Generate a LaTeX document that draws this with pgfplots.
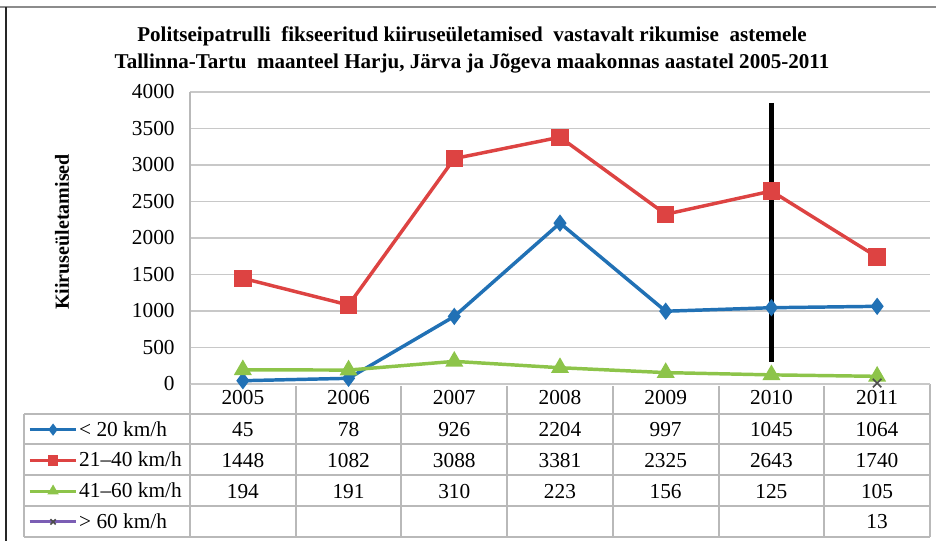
\documentclass[border=0pt]{standalone}
\usepackage{fontspec}
\setmainfont{Liberation Serif}
\usepackage{pgfplots}
\pgfplotsset{compat=1.18}

\definecolor{sblue}{RGB}{33,113,181}
\definecolor{sred}{RGB}{221,67,66}
\definecolor{sgreen}{RGB}{141,196,74}
\definecolor{spurple}{RGB}{123,94,180}
\definecolor{gridc}{RGB}{200,200,200}
\definecolor{tabc}{RGB}{185,185,185}

\newcommand{\fs}{\fontsize{16}{19}\selectfont}

\begin{document}
\begin{tikzpicture}
% pixel-like coordinates (origin top left)
\begin{scope}[x=0.75pt,y=-0.75pt]
  \path[use as bounding box] (0,0) rectangle (936,541);
  \draw[black!45, line width=2.2pt] (0,7) -- (936,7);
  \draw[black!85, line width=1.1pt] (6,7) -- (6,541);
  % title
  \node[font=\bfseries\fontsize{15.8}{20.5}\selectfont, align=center] at (472,50)
    {Politseipatrulli\ \ fikseeritud kiiruseületamised\ \ vastavalt rikumise\ \ astemele\\
     Tallinna-Tartu\ \ maanteel Harju, Järva ja Jõgeva maakonnas aastatel 2005-2011};
  \node[rotate=90, font=\bfseries\fontsize{15}{18}\selectfont] at (62,232) {Kiiruseületamised};
  % table grid
  \foreach \yy in {414,444,475,506,537} \draw[tabc, line width=0.9pt] (24,\yy) -- (930,\yy);
  \draw[tabc, line width=0.9pt] (24,414) -- (24,537);
  \draw[tabc, line width=0.9pt] (190,384) -- (190,537);
  \foreach \xx in {296,401,507,613,719,824} \draw[tabc, line width=0.9pt] (\xx,386) -- (\xx,537);
  \draw[tabc, line width=0.9pt] (930,384) -- (930,537);
  % table values
  \foreach \v [count=\i from 0] in {45,78,926,2204,997,1045,1064}
    \node[font=\fs] at ({190+105.7*(\i+0.5)},430) {\v};
  \foreach \v [count=\i from 0] in {1448,1082,3088,3381,2325,2643,1740}
    \node[font=\fs] at ({190+105.7*(\i+0.5)},460.5) {\v};
  \foreach \v [count=\i from 0] in {194,191,310,223,156,125,105}
    \node[font=\fs] at ({190+105.7*(\i+0.5)},491.5) {\v};
  \node[font=\fs] at ({190+105.7*6.5},522) {13};
\end{scope}

\begin{axis}[
    at={(142.5pt,-288pt)}, anchor=south west,
    scale only axis, width=555pt, height=219pt,
    xmin=-0.5, xmax=6.5, ymin=0, ymax=4000,
    xtick={0,...,6}, xticklabels={2005,2006,2007,2008,2009,2010,2011},
    ytick={0,500,...,4000},
    tick style={draw=none},
    ticklabel style={font=\fs},
    /pgf/number format/assume math mode=true,
    /pgf/number format/1000 sep={},
    yticklabel style={xshift=-8pt},
    xticklabel style={yshift=-1pt},
    axis x line*=bottom, axis y line*=left,
    x axis line style={draw=none},
    y axis line style={tabc, line width=0.9pt, -},
    ymajorgrids, grid style={gridc, line width=1.4pt},
    clip=false,
    legend style={at={(-0.2189,-0.1027)}, anchor=north west, draw=none, fill=none,
      inner sep=0pt, row sep=0pt, font=\fs,
      nodes={inner sep=1pt, minimum height=23.06pt}},
    legend cell align=left,
    legend image code/.code={
      \draw[mark repeat=2, mark phase=2, mark size=2.8pt, line width=2.2pt]
        plot coordinates {(0pt,0pt) (17.5pt,0pt) (35pt,0pt)};},
]
\addplot[sblue, line width=2.6pt, mark=diamond*, mark size=4.4pt]
  coordinates {(0,45) (1,78) (2,926) (3,2204) (4,997) (5,1045) (6,1064)};
\addlegendentry{< 20 km/h}
\addplot[sred, line width=2.6pt, mark=square*, mark size=5.2pt]
  coordinates {(0,1448) (1,1082) (2,3088) (3,3381) (4,2325) (5,2643) (6,1740)};
\addlegendentry{21--40 km/h}
\addplot[sgreen, line width=2.6pt, mark=triangle*, mark size=5.2pt]
  coordinates {(0,194) (1,191) (2,310) (3,223) (4,156) (5,125) (6,105)};
\addlegendentry{41--60 km/h}
\addplot[spurple, line width=2.6pt, mark=x, mark size=4.5pt, mark options={black!70, line width=1.2pt}]
  coordinates {(6,13)};
\addlegendentry{> 60 km/h}
\draw[black, line width=3.6pt] (axis cs:5,3850) -- (axis cs:5,301);
\end{axis}
\end{tikzpicture}
\end{document}
